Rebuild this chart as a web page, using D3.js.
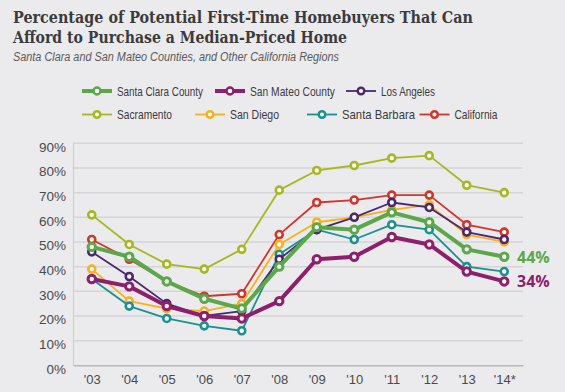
<!DOCTYPE html>
<html><head><meta charset="utf-8">
<script src="https://cdn.jsdelivr.net/npm/d3@7"></script>
<style>
html,body{margin:0;padding:0;background:#ebebed;}
svg{display:block;}
</style></head>
<body>
<svg id="chart" width="565" height="392"></svg>
<script>
const years = ["'03","'04","'05","'06","'07","'08","'09","'10","'11","'12","'13","'14*"];
const yTicks = [0,10,20,30,40,50,60,70,80,90];
const santaClara   = [48,44,34,27,23,40,56,55,62,58,47,44];
const sanMateo     = [35,32,24,20,19,26,43,44,52,49,38,34];
const losAngeles   = [46,36,25,20,22,43,55,60,66,64,54,51];
const sacramento   = [61,49,41,39,47,71,79,81,84,85,73,70];
const sanDiego     = [39,26,23,22,25,49,58,60,63,65,53,50];
const santaBarbara = [35,24,19,16,14,45,55,51,57,55,40,38];
const california   = [51,43,34,28,29,53,66,67,69,69,57,54];
const seriesNames  = ["Santa Clara County","San Mateo County","Los Angeles","Sacramento","San Diego","Santa Barbara","California"];
const seriesValues = [santaClara,sanMateo,losAngeles,sacramento,sanDiego,santaBarbara,california];
const seriesColors = ["#5ba84b","#8e1f6d","#4b2770","#a6b81f","#f8b01c","#19918f","#d1352c"];
const endLabels = [{i:0,text:"44%"},{i:1,text:"34%"}];

const svg = d3.select("#chart");
const FONT = "'Liberation Sans Narrow','Liberation Sans',Arial,sans-serif";

// Title
svg.append("text").attr("x",13).attr("y",23).attr("font-family","'DejaVu Serif',serif")
  .attr("font-weight","bold").attr("font-size",16.5).attr("fill","#3b3b3d")
  .attr("textLength",460).attr("lengthAdjust","spacingAndGlyphs")
  .text("Percentage of Potential First-Time Homebuyers That Can");
svg.append("text").attr("x",13).attr("y",42.5).attr("font-family","'DejaVu Serif',serif")
  .attr("font-weight","bold").attr("font-size",16.5).attr("fill","#3b3b3d")
  .attr("textLength",334).attr("lengthAdjust","spacingAndGlyphs")
  .text("Afford to Purchase a Median-Priced Home");
svg.append("text").attr("x",13).attr("y",61).attr("font-family",FONT)
  .attr("font-style","italic").attr("font-size",12.5).attr("fill","#5a5a5c")
  .attr("textLength",326).attr("lengthAdjust","spacingAndGlyphs")
  .text("Santa Clara and San Mateo Counties, and Other California Regions");

// Scales
const x = d3.scalePoint().domain(years).range([73,523]).padding(0.5);
const y = d3.scaleLinear().domain([0,90]).range([365.3,143.3]);

// Gridlines
svg.append("g").selectAll("line").data(yTicks.filter(d=>d>0)).join("line")
  .attr("x1",73).attr("x2",523).attr("y1",d=>y(d)).attr("y2",d=>y(d))
  .attr("stroke","#d5d5d8").attr("stroke-width",1.5);

// Axes
const yAxis = svg.append("g").attr("transform","translate(73,0)")
  .call(d3.axisLeft(y).tickValues(yTicks).tickSize(0).tickPadding(7).tickFormat(d=>d+"%"));
yAxis.select(".domain").attr("stroke","#cfcfd2").attr("stroke-width",1.2);
yAxis.selectAll("text").attr("font-family",FONT).attr("font-size",13.5).attr("fill","#4a4a4c").attr("dy","0.58em");

const xAxis = svg.append("g").attr("transform","translate(0,365.3)")
  .call(d3.axisBottom(x).tickSize(0).tickPadding(9));
xAxis.select(".domain").attr("stroke","#b8b8bb").attr("stroke-width",1.5);
xAxis.selectAll("text").attr("font-family",FONT).attr("font-size",13).attr("fill","#4a4a4c");

// Lines
const order = [3,6,4,5,2,0,1];
const line = d3.line().x((d,i)=>x(years[i])).y(d=>y(d));
const lineG = svg.append("g");
order.forEach(si=>{
  const thick = si<2;
  const g = lineG.append("g");
  g.append("path").datum(seriesValues[si]).attr("d",line).attr("fill","none")
    .attr("stroke",seriesColors[si]).attr("stroke-width",thick?4:1.8).attr("stroke-linejoin","round");
  g.selectAll("circle").data(seriesValues[si]).join("circle")
    .attr("cx",(d,i)=>x(years[i])).attr("cy",d=>y(d)).attr("r",thick?3.7:3.5)
    .attr("fill","#fff").attr("stroke",seriesColors[si]).attr("stroke-width",thick?3:2.6);
});

// End labels
endLabels.forEach(e=>{
  const v = seriesValues[e.i][seriesValues[e.i].length-1];
  svg.append("text").attr("x",517).attr("y",y(v)+6).attr("font-family","'Open Sans',sans-serif")
    .attr("font-weight","bold").attr("font-size",16).attr("fill",seriesColors[e.i]).text(e.text);
});

// Legend
const legendPos = [[82,91],[215,91],[346,91],[82,114.5],[195,114.5],[307,114.5],[419.5,114.5]];
const legendW = [86,85,54,55,49,73,43];
seriesNames.forEach((n,si)=>{
  const [lx,ly] = legendPos[si];
  const thick = si<2;
  const g = svg.append("g");
  g.append("line").attr("x1",lx).attr("x2",lx+30).attr("y1",ly).attr("y2",ly)
    .attr("stroke",seriesColors[si]).attr("stroke-width",thick?4:1.8);
  g.append("circle").attr("cx",lx+15).attr("cy",ly).attr("r",thick?3.5:3.3)
    .attr("fill","#fff").attr("stroke",seriesColors[si]).attr("stroke-width",2.5);
  g.append("text").attr("x",lx+35).attr("y",ly+4.8).attr("font-family",FONT)
    .attr("font-size",13.5).attr("fill","#3b3b3d")
    .attr("textLength",legendW[si]).attr("lengthAdjust","spacingAndGlyphs").text(n);
});
</script>
</body></html>
